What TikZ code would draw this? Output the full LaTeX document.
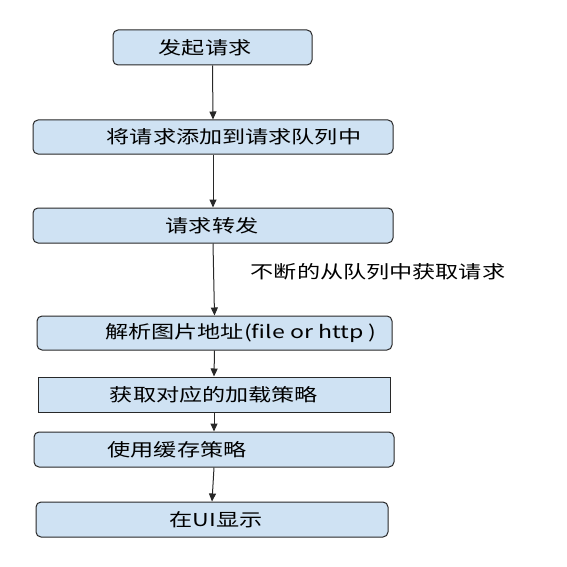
\documentclass[tikz,border=0pt]{standalone}
\usepackage{fontspec}
\newfontfamily\cjk[FakeStretch=1.3]{Noto Sans CJK SC}
\usetikzlibrary{arrows.meta}
\definecolor{boxfill}{RGB}{207,226,243}
\definecolor{edge}{RGB}{40,40,40}
\tikzset{
  stepbox/.style={draw=edge, line width=1pt, fill=boxfill, rounded corners=5pt, inner sep=0pt},
  sharpbox/.style={draw=edge, line width=1pt, fill=boxfill, sharp corners, inner sep=0pt},
  txt/.style={font=\cjk\fontsize{17.8}{20}\selectfont, text=black, inner sep=0pt},
  flow/.style={draw=edge, line width=1pt, -{Triangle[length=8pt,width=7pt]}}
}
\begin{document}
\begin{tikzpicture}[x=1pt,y=-1pt]
\useasboundingbox (0,0) rectangle (567,567);
\fill[white] (0,0) rectangle (567,567);
\node[stepbox, minimum width=199pt, minimum height=35pt] (b1) at (212.5,47.5) {};
\node[stepbox, minimum width=360pt, minimum height=34pt] (b2) at (213,137) {};
\node[stepbox, minimum width=360pt, minimum height=35pt] (b3) at (213,225.5) {};
\node[stepbox, minimum width=355pt, minimum height=34pt] (b4) at (214.5,333) {};
\node[sharpbox, minimum width=352pt, minimum height=35pt] (b5) at (214,394.5) {};
\node[stepbox, minimum width=360pt, minimum height=35pt] (b6) at (214,449.5) {};
\node[stepbox, minimum width=352pt, minimum height=35pt] (b7) at (212,519.5) {};
\node[txt] (t1) at (205,48) {发起请求};
\node[txt] (t2) at (234,137) {将请求添加到请求队列中};
\node[txt] (t3) at (212,225.5) {请求转发};
\node[txt] (t4) at (241,333) {解析图片地址(file or http )};
\node[txt] (t5) at (214,394.5) {获取对应的加载策略};
\node[txt] (t6) at (177,449.5) {使用缓存策略};
\node[txt] (t7) at (216,519.5) {在UI显示};
\node[txt] (lab) at (378,272) {不断的从队列中获取请求};
\draw[flow] (b1.south) -- (b2.north);
\draw[flow] (b2.south) -- (b3.north);
\draw[flow] (b3.south) -- (b4.north);
\draw[flow] (b4.south) -- (b5.north);
\draw[flow] (b5.south) -- (b6.north);
\draw[flow] (b6.south) -- (b7.north);
\end{tikzpicture}
\end{document}
